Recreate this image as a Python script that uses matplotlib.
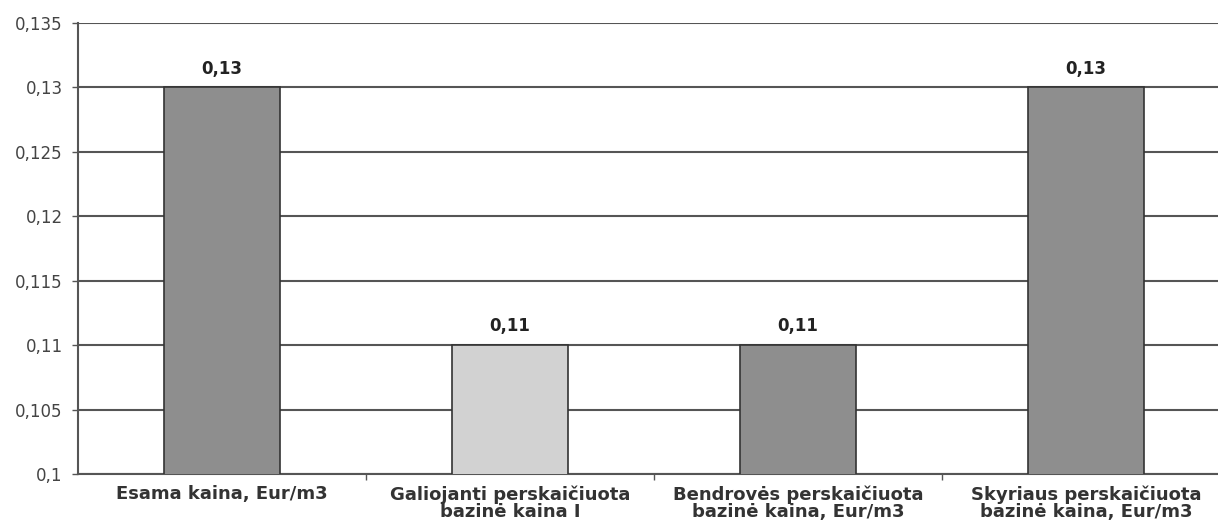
import matplotlib
matplotlib.use("Agg")
import matplotlib.pyplot as plt
from matplotlib.ticker import FixedLocator

categories = [
    "Esama kaina, Eur/m3",
    "Galiojanti perskaičiuota\nbazinė kaina I",
    "Bendrovės perskaičiuota\nbazinė kaina, Eur/m3",
    "Skyriaus perskaičiuota\nbazinė kaina, Eur/m3",
]
values = [0.13, 0.11, 0.11, 0.13]
value_labels = ["0,13", "0,11", "0,11", "0,13"]
bar_colors = ["#8e8e8e", "#d2d2d2", "#8e8e8e", "#8e8e8e"]
yticks = [0.1, 0.105, 0.11, 0.115, 0.12, 0.125, 0.13, 0.135]
ytick_labels = ["0,1", "0,105", "0,11", "0,115", "0,12", "0,125", "0,13", "0,135"]

plt.rcParams["font.family"] = ["DejaVu Sans"]

W, H = 1218, 521
fig = plt.figure(figsize=(W / 100, H / 100), dpi=100)
left, right, top, bottom = 78, 1218, 23, 474
ax = fig.add_axes([left / W, (H - bottom) / H, (right - left) / W, (bottom - top) / H])

x = list(range(len(categories)))
ax.set_axisbelow(True)
ax.yaxis.grid(True, color="#555555", linewidth=1.5)
ax.bar(x, values, width=0.4, color=bar_colors, edgecolor="#333333", linewidth=1.2, zorder=3)

for xi, v, lab in zip(x, values, value_labels):
    ax.annotate(lab, (xi, v), xytext=(0, 7), textcoords="offset points",
                ha="center", va="bottom", fontsize=12, fontweight="bold", color="#222222")

ax.set_ylim(0.1, 0.135)
ax.set_xlim(-0.5, -0.5 + (right - left) / 288)
ax.yaxis.set_major_locator(FixedLocator(yticks))
ax.set_yticklabels(ytick_labels)
ax.tick_params(axis="y", labelsize=12, labelcolor="#444444", color="#555555", length=4, width=1, pad=7)

# category ticks at boundaries, labels at centers
ax.set_xticks([i + 0.5 for i in x[:-1]])
ax.set_xticklabels([])
ax.tick_params(axis="x", color="#555555", length=4, width=1)
for xi, c in zip(x, categories):
    ax.annotate(c, (xi, 0.1), xytext=(0, -8), textcoords="offset points",
                ha="center", va="top", fontsize=13, fontweight="bold",
                color="#333333", linespacing=0.95, annotation_clip=False)

for s in ["top", "right"]:
    ax.spines[s].set_visible(False)
ax.spines["left"].set_color("#555555")
ax.spines["left"].set_linewidth(1.5)
ax.spines["bottom"].set_color("#555555")
ax.spines["bottom"].set_linewidth(1.5)

fig.savefig("out.png", dpi=100)
